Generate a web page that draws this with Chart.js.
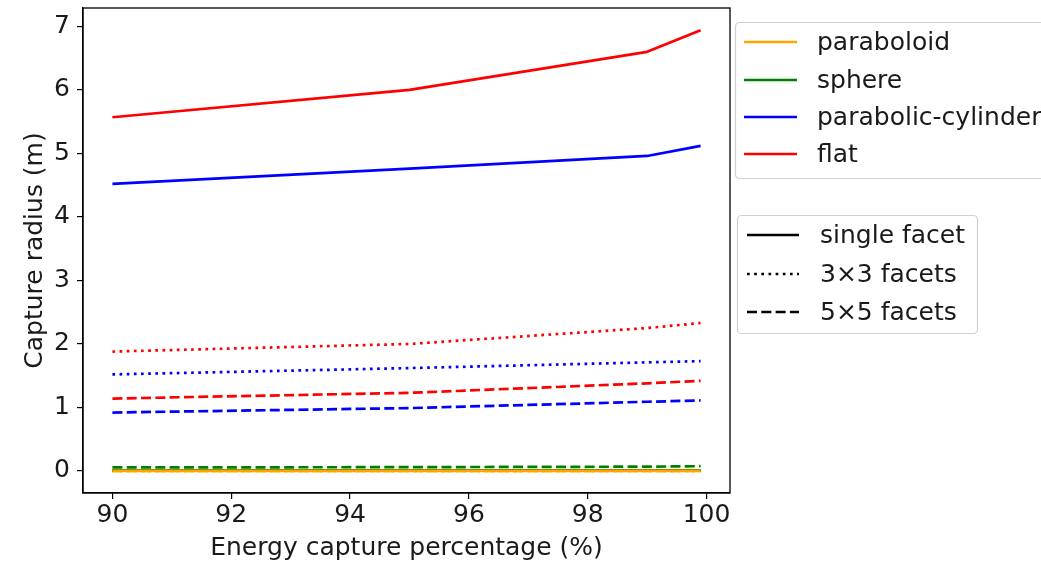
<!DOCTYPE html>
<html>
<head>
<meta charset="utf-8">
<script src="https://cdn.jsdelivr.net/npm/chart.js@4.4.1/dist/chart.umd.min.js"></script>
<style>
  html, body { margin: 0; padding: 0; background: #fff; }
  #wrap { width: 1041px; height: 562px; position: relative; }
</style>
</head>
<body>
<div id="wrap"><canvas id="c" width="1041" height="562"></canvas></div>
<script>
// Energy capture percentage (x) and capture radius (m) per reflector shape and facet layout
const energyPct = [90, 95, 99, 99.9];

const paraboloidSingle = [0.0, 0.0, 0.0, 0.0];
const paraboloid3x3    = [0.0, 0.0, 0.0, 0.0];
const paraboloid5x5    = [0.0, 0.0, 0.0, 0.0];

const sphereSingle = [0.008, 0.009, 0.010, 0.011];
const sphere3x3    = [0.004, 0.004, 0.005, 0.005];
const sphere5x5    = [0.055, 0.060, 0.068, 0.075];

const cylinderSingle = [4.52, 4.76, 4.96, 5.12];
const cylinder3x3    = [1.52, 1.62, 1.71, 1.73];
const cylinder5x5    = [0.92, 0.99, 1.09, 1.11];

const flatSingle = [5.57, 6.00, 6.60, 6.94];
const flat3x3    = [1.88, 2.00, 2.25, 2.33];
const flat5x5    = [1.14, 1.23, 1.38, 1.42];

const xTickValues = [90, 92, 94, 96, 98, 100];
const yTickValues = [0, 1, 2, 3, 4, 5, 6, 7];

const shapeNames = ['paraboloid', 'sphere', 'parabolic-cylinder', 'flat'];
const facetNames = ['single facet', '3×3 facets', '5×5 facets'];

const COLORS = { paraboloid: '#ffa500', sphere: '#008000', 'parabolic-cylinder': '#0000ff', flat: '#ff0000' };
const LW = 2.7;
const DASHES = { 'single facet': [], '3×3 facets': [LW, LW * 1.65], '5×5 facets': [LW * 3.7, LW * 1.6] };

const seriesTable = {
  'single facet': [paraboloidSingle, sphereSingle, cylinderSingle, flatSingle],
  '3×3 facets':   [paraboloid3x3, sphere3x3, cylinder3x3, flat3x3],
  '5×5 facets':   [paraboloid5x5, sphere5x5, cylinder5x5, flat5x5]
};

const datasets = [];
facetNames.forEach(facet => {
  seriesTable[facet].forEach((vals, i) => {
    const shape = shapeNames[i];
    datasets.push({
      label: shape + ' / ' + facet,
      data: energyPct.map((x, k) => ({ x: x, y: vals[k] })),
      borderColor: COLORS[shape],
      borderWidth: LW,
      borderDash: DASHES[facet],
      borderCapStyle: 'butt',
      borderJoinStyle: 'round',
      pointRadius: 0,
      tension: 0,
      fill: false
    });
  });
});

const FONT = 'DejaVu Sans';
const FS = 25;

// Axes frame (top/right spines) and the two legend boxes
const framePlugin = {
  id: 'frame',
  afterDraw(chart) {
    const ctx = chart.ctx;
    const a = chart.chartArea;
    ctx.save();
    ctx.strokeStyle = '#000';
    ctx.lineWidth = 1.3;
    ctx.strokeRect(a.left, a.top, a.right - a.left, a.bottom - a.top);

    function box(x, y, w, h) {
      ctx.beginPath();
      ctx.roundRect(x, y, w, h, 4);
      ctx.fillStyle = 'rgba(255,255,255,0.8)';
      ctx.fill();
      ctx.strokeStyle = '#d0d0d0';
      ctx.lineWidth = 1.2;
      ctx.stroke();
    }
    function entry(x0, x1, y, color, dash, text, tx) {
      ctx.beginPath();
      ctx.setLineDash(dash);
      ctx.lineCap = 'butt';
      ctx.strokeStyle = color;
      ctx.lineWidth = LW;
      ctx.moveTo(x0, y);
      ctx.lineTo(x1, y);
      ctx.stroke();
      ctx.setLineDash([]);
      ctx.fillStyle = '#1a1a1a';
      ctx.font = FS + 'px "' + FONT + '"';
      ctx.textBaseline = 'middle';
      ctx.textAlign = 'left';
      ctx.fillText(text, tx, y + 1);
    }

    box(735.5, 22.5, 340, 156);
    const shapeY = [42, 80, 117, 154];
    shapeNames.forEach((s, i) => entry(744, 797, shapeY[i], COLORS[s], [], s, 817));

    box(737.5, 215.5, 240, 118);
    const facetY = [235, 274, 312];
    facetNames.forEach((f, i) => entry(747, 799, facetY[i], '#000', DASHES[f], f, 820));
    ctx.restore();
  }
};

new Chart(document.getElementById('c'), {
  type: 'line',
  data: { datasets: datasets },
  options: {
    responsive: false,
    animation: false,
    devicePixelRatio: 1,
    layout: { padding: { left: 0, right: 311, top: 8, bottom: 0 } },
    plugins: { legend: { display: false }, tooltip: { enabled: false } },
    scales: {
      x: {
        type: 'linear',
        min: 89.505,
        max: 100.395,
        afterBuildTicks(scale) { scale.ticks = xTickValues.map(v => ({ value: v })); },
        afterFit(scale) { scale.height = 69; scale.paddingLeft = 0; scale.paddingRight = 0; },
        grid: { drawOnChartArea: false, drawTicks: true, tickLength: 6, color: '#000', lineWidth: 1.2 },
        border: { display: true, color: '#000', width: 1.3 },
        ticks: { color: '#1a1a1a', font: { family: FONT, size: FS }, padding: 1, maxRotation: 0, autoSkip: false },
        title: { display: true, text: 'Energy capture percentage (%)', color: '#1a1a1a', font: { family: FONT, size: FS, lineHeight: 1.1 }, padding: { top: 0, bottom: 0 } }
      },
      y: {
        type: 'linear',
        min: -0.347,
        max: 7.29,
        afterBuildTicks(scale) { scale.ticks = yTickValues.map(v => ({ value: v })); },
        afterFit(scale) { scale.width = 83; scale.paddingTop = 0; scale.paddingBottom = 0; },
        grid: { drawOnChartArea: false, drawTicks: true, tickLength: 6, color: '#000', lineWidth: 1.2 },
        border: { display: true, color: '#000', width: 1.3 },
        ticks: { color: '#1a1a1a', font: { family: FONT, size: FS }, padding: 7, autoSkip: false },
        title: { display: true, text: 'Capture radius (m)', color: '#1a1a1a', font: { family: FONT, size: FS }, padding: { top: 20, bottom: 0 } }
      }
    }
  },
  plugins: [framePlugin]
});
</script>
</body>
</html>
